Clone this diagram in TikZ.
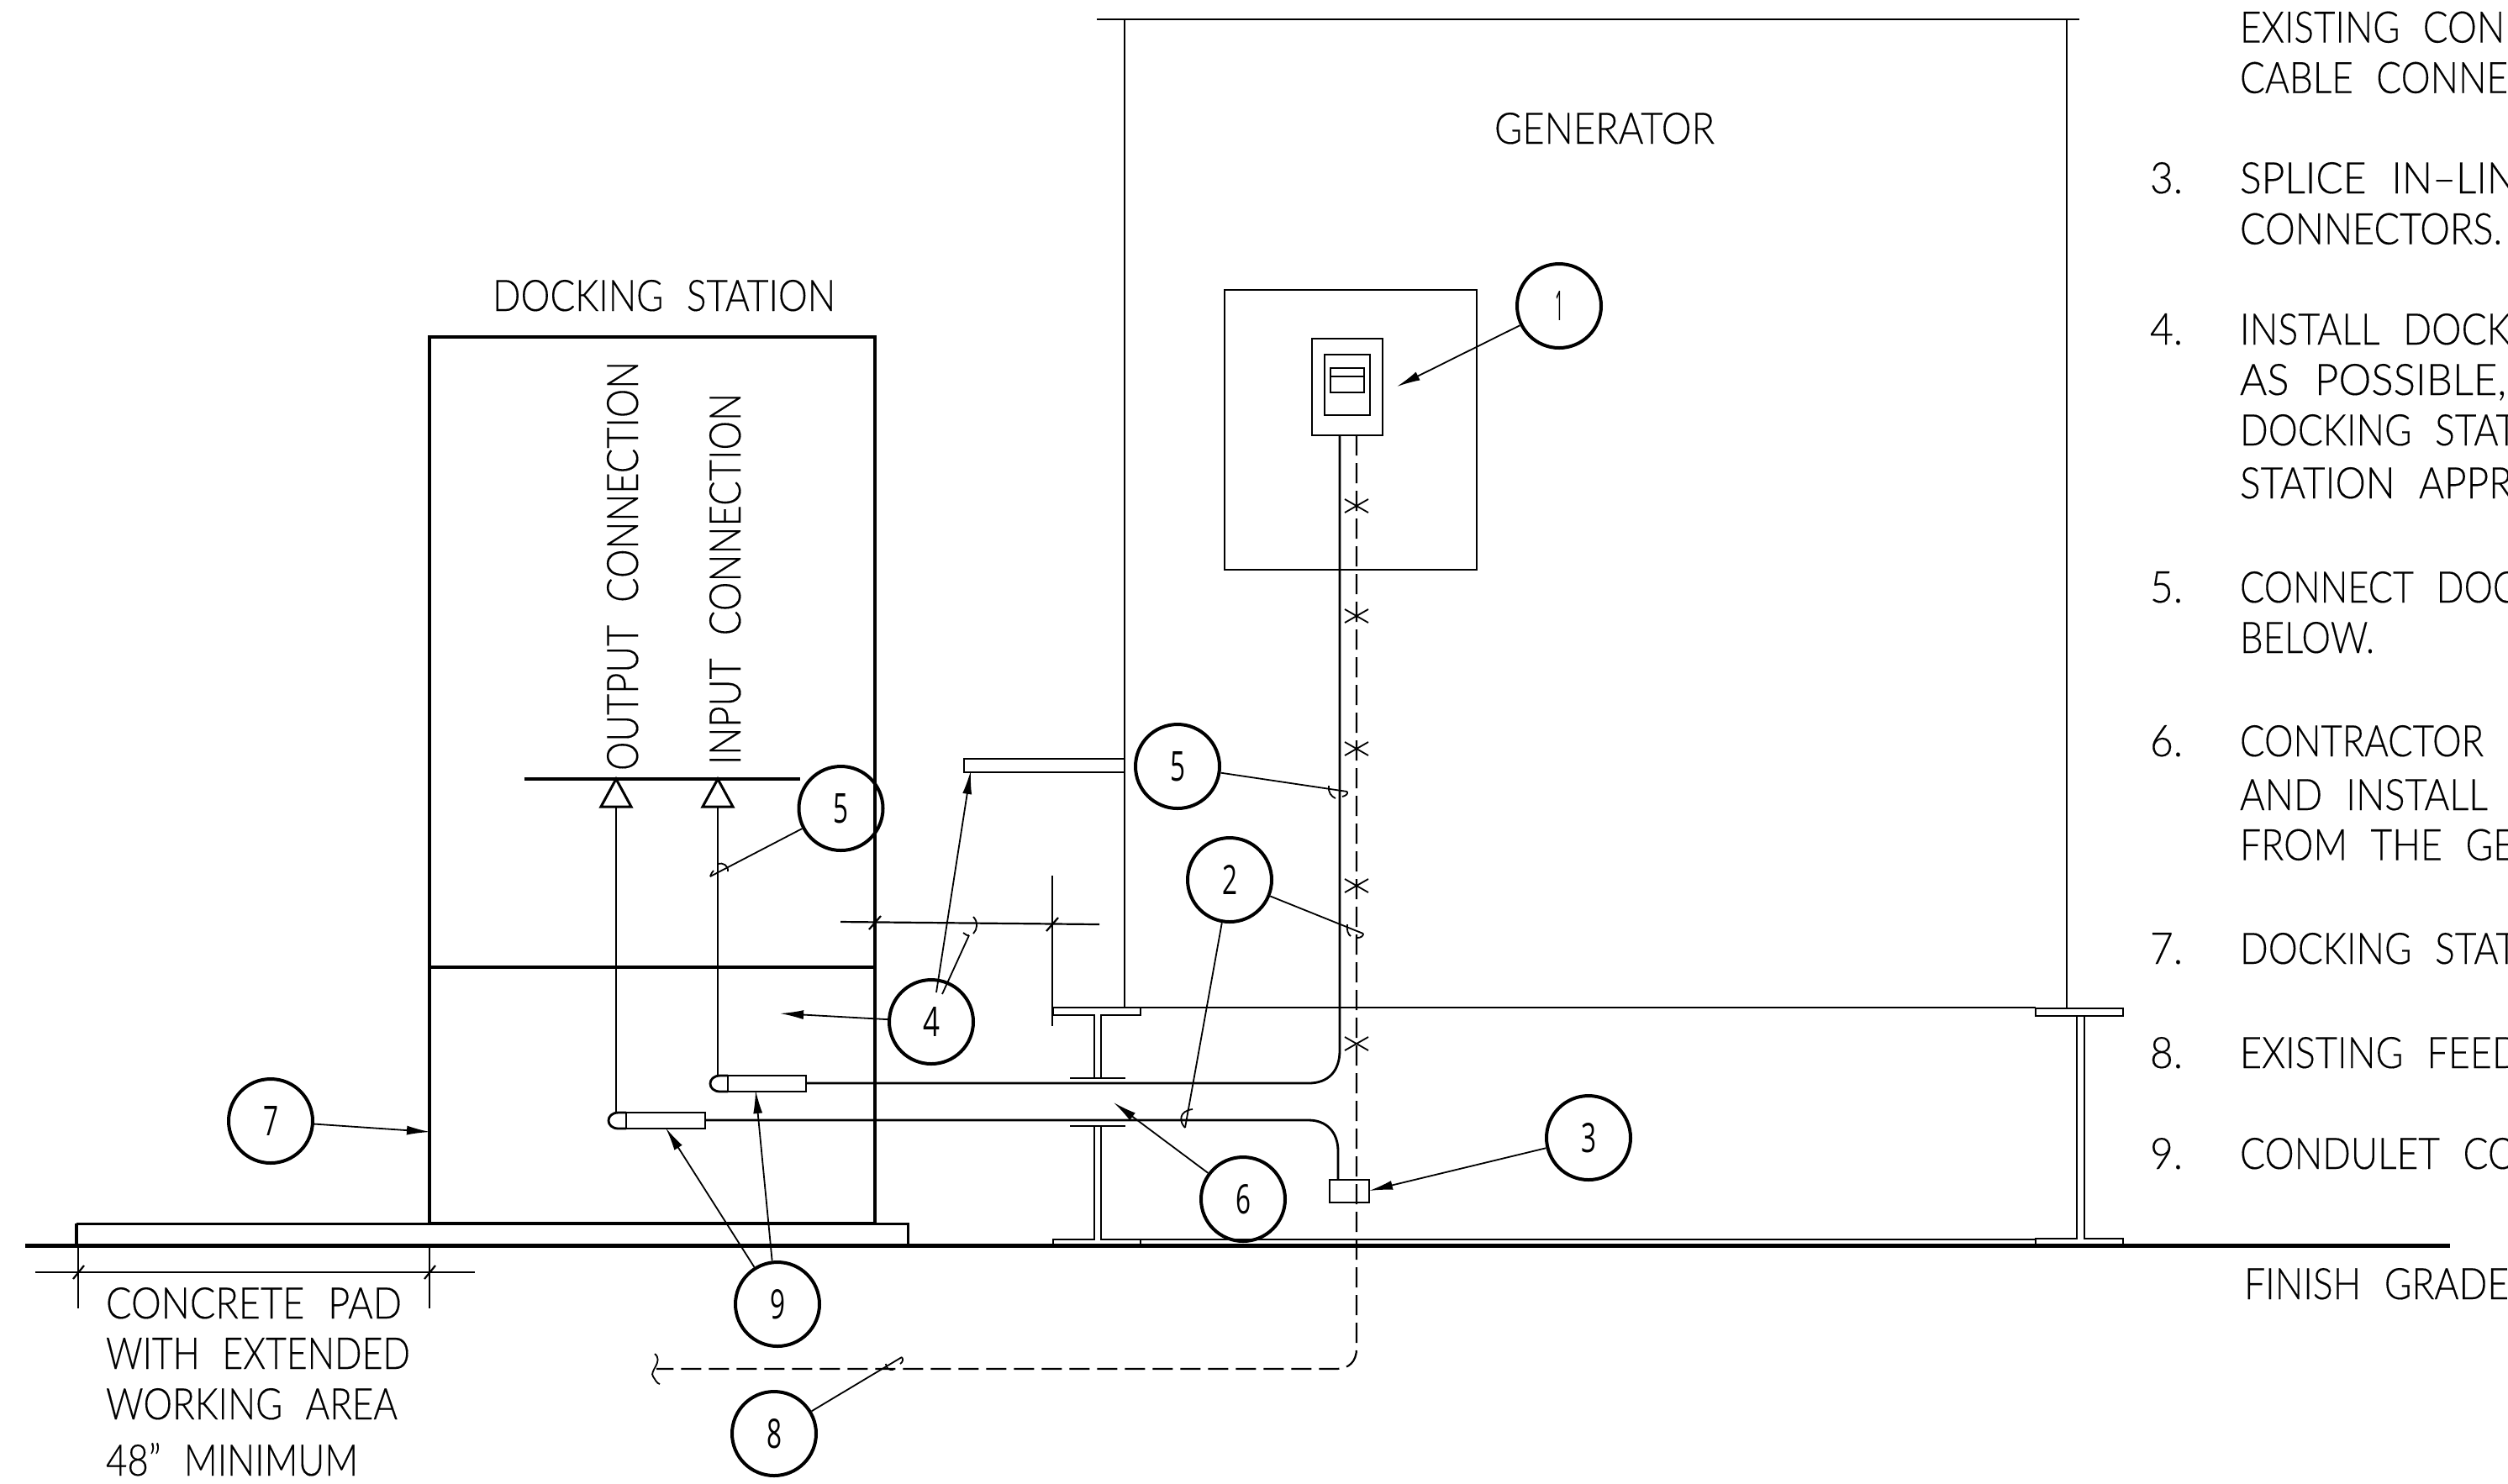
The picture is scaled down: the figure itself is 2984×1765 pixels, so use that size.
\documentclass[tikz,border=0pt]{standalone}
\usepackage{fontspec}
\usepackage{graphicx}
\usetikzlibrary{arrows.meta}
\setmainfont{Lato}[UprightFont=* Light,FakeBold=0.25]
\newfontfamily\digitfont{Open Sans}
\newlength{\pxu}
\setlength{\pxu}{0.01cm}
\newcommand{\fitw}[3][37]{\resizebox{#2\pxu}{#1\pxu}{\spaceskip=.62em\relax #3}}
\newcommand{\dgt}[2][18]{\resizebox{#1\pxu}{35\pxu}{\digitfont #2}}
\tikzset{
  hair/.style={line width=1.6\pxu},
  fine/.style={line width=2.2\pxu},
  conduit/.style={line width=2.8\pxu},
  medium/.style={line width=3\pxu},
  heavy/.style={line width=4.6\pxu},
  dashline/.style={line width=2.2\pxu, dash pattern=on 24\pxu off 9\pxu},
  lead/.style={line width=1.8\pxu},
  tip/.style={lead, -{Latex[length=2.8mm,width=1.1mm]}},
  txt/.style={inner sep=0pt, outer sep=0pt, anchor=base west},
  callout/.style={circle, draw, line width=4\pxu, minimum size=100\pxu, inner sep=0pt},
  box/.style={draw, fine, rectangle, inner sep=0pt},
}
\begin{document}
\begin{tikzpicture}[x=0.01cm,y=-0.01cm]
\useasboundingbox (0,0) rectangle (2984,1765);
\clip (0,0) rectangle (2984,1765);

% generator
\draw[fine] (1305,23) -- (2474,23);
\draw[fine] (1338,23) -- (1338,1199);
\draw[fine] (2459,23) -- (2459,1200);
\draw[fine] (1253,1199) -- (2422,1199);
% left beam
\draw[fine] (1253,1199) -- (1357,1199) -- (1357,1208) -- (1310,1208) -- (1310,1283);
\draw[fine] (1253,1199) -- (1253,1208) -- (1302,1208) -- (1302,1283);
\draw[fine] (1273,1283) -- (1339,1283);
\draw[fine] (1273,1340) -- (1339,1340);
\draw[fine] (1302,1340) -- (1302,1475) -- (1253,1475) -- (1253,1483);
\draw[fine] (1310,1340) -- (1310,1475) -- (2422,1475);
\draw[fine] (1357,1475) -- (1357,1483);
% right beam
\draw[fine] (2422,1200) rectangle (2526,1209);
\draw[fine] (2471,1209) -- (2471,1474) -- (2422,1474) -- (2422,1483);
\draw[fine] (2480,1209) -- (2480,1474) -- (2526,1474) -- (2526,1483);
% ground and pad
\draw[heavy] (30,1482.5) -- (2915,1482.5);
\draw[line width=4\pxu] (91,1483) -- (91,1456);
\draw[medium] (91,1456) -- (511,1456);
\draw[medium] (1041,1456) -- (1080,1456) -- (1080,1483);
% docking station
\draw[line width=4\pxu] (511,1456) -- (511,401) -- (1041,401) -- (1041,1456);
\draw[heavy] (511,1456) -- (1041,1456);
\draw[line width=4\pxu] (511,1151) -- (1041,1151);
\draw[line width=4\pxu] (624,927) -- (952,927);
% connection triangles
\draw[medium] (733,927) -- (751,960) -- (715,960) -- cycle;
\draw[medium] (854,927) -- (872,960) -- (836,960) -- cycle;
\draw[conduit] (733,960) -- (733,1324);
\draw[conduit] (854,960) -- (854,1280);
% fittings
\draw[conduit] (866,1280) rectangle (959,1299);
\draw[conduit] (866,1280) -- (857,1280) .. controls (841,1280) and (841,1299) .. (857,1299) -- (866,1299);
\draw[conduit] (745,1324) rectangle (839,1343);
\draw[conduit] (745,1324) -- (736,1324) .. controls (720,1324) and (720,1343) .. (736,1343) -- (745,1343);
% conduits
\draw[conduit] (959,1289) -- (1557,1289) .. controls (1580,1289) and (1594,1275) .. (1594,1250) -- (1594,518);
\draw[conduit] (839,1333) -- (1557,1333) .. controls (1578,1333) and (1592,1347) .. (1592,1370) -- (1592,1404);
\node[box, minimum width=47\pxu, minimum height=27\pxu, line width=2.6\pxu] (cond3) at (1605.5,1417.5) {};
% dashed feeder
\draw[dashline] (1614,518) -- (1614,1605) .. controls (1614,1620) and (1605,1629) .. (1590,1629) -- (781,1629);
\draw[lead] (779,1611) .. controls (790,1620) and (772,1632) .. (777,1638) .. controls (780,1642) and (781,1646) .. (785,1647);
% cross marks
\foreach \yy in {602,733,891,1054,1242} {\draw[lead] (1600,\yy-8) -- (1628,\yy+8) (1600,\yy+8) -- (1628,\yy-8);}
% panel
\draw[fine] (1457,345) rectangle (1757,678);
\draw[fine] (1561,403) rectangle (1645,518);
\draw[fine] (1576,422) rectangle (1630,494);
\draw[fine] (1583,438) rectangle (1623,467);
\draw[fine] (1583,448) -- (1623,448);
% bench
\draw[fine] (1338,903) -- (1147,903) -- (1147,919) -- (1338,919);
% dimension, right
\draw[fine] (1000,1097) -- (1308,1100);
\draw[fine] (1252,1042) -- (1252,1221);
\draw[fine] (1034,1106) -- (1048,1090);
\draw[fine] (1245,1108) -- (1259,1092);
% dimension, pad
\draw[fine] (42,1514) -- (565,1514);
\draw[hair] (93,1483) -- (93,1557);
\draw[hair] (511,1483) -- (511,1557);
\draw[fine] (87,1522) -- (100,1506);
\draw[fine] (505,1522) -- (518,1506);

% callouts
\node[callout] (c1) at (1855,364) {\dgt[10]{1}};
\node[callout] (c2) at (1463,1047) {\dgt{2}};
\node[callout] (c3) at (1890,1354) {\dgt{3}};
\node[callout] (c4) at (1108,1216) {\dgt[20]{4}};
\node[callout] (c5a) at (1401,912) {\dgt{5}};
\node[callout] (c5b) at (1000.5,962) {\dgt{5}};
\node[callout] (c6) at (1479,1427) {\dgt{6}};
\node[callout] (c7) at (322,1334) {\dgt{7}};
\node[callout] (c8) at (921,1706) {\dgt{8}};
\node[callout] (c9) at (925,1552) {\dgt{9}};

% leader ends
\coordinate (t1) at (1662,460);
\coordinate (t3) at (1629,1417);
\coordinate (t4a) at (1155,917);
\coordinate (s4a) at (1114,1181);
\coordinate (t4b) at (1153,1113);
\coordinate (s4b) at (1121,1183);
\coordinate (t4c) at (928,1206);
\coordinate (t5a) at (1603,942);
\coordinate (t5b) at (845,1043);
\coordinate (t2a) at (1622,1111);
\coordinate (t2b) at (1410,1342);
\coordinate (t6) at (1325,1312);
\coordinate (t7) at (512,1347);
\coordinate (t8) at (1073,1615);
\coordinate (t9a) at (792,1342);
\coordinate (t9b) at (899,1297);

\draw[tip] (c1) -- (t1);
\draw[tip] (c3) -- (t3);
\draw[tip] (s4a) -- (t4a);
\draw[lead] (s4b) -- (t4b);
\draw[tip] (c4) -- (t4c);
\draw[lead] (c5a) -- (t5a);
\draw[lead] (c5b) -- (t5b);
\draw[lead] (c2) -- (t2a);
\draw[lead] (c2) -- (t2b);
\draw[tip] (c6) -- (t6);
\draw[tip] (c7) -- (t7);
\draw[lead] (c8) -- (t8);
\draw[tip] (c9.122) -- (t9a);
\draw[tip] (c9.97) -- (t9b);

% cloud hooks at leader ends
\draw[lead] (t5a) .. controls (1604,945) and (1601,947) .. (1597,948);
\draw[lead] (1581,935) .. controls (1580,943) and (1584,948) .. (1589,950);
\draw[lead] (t2a) .. controls (1622,1114) and (1619,1116) .. (1615,1116);
\draw[lead] (1603,1100) .. controls (1602,1107) and (1604,1112) .. (1607,1114);
\draw[lead] (t5b) .. controls (846,1040) and (847,1038) .. (849,1036);
\draw[lead] (854,1028) .. controls (860,1026) and (867,1030) .. (866,1037);
\draw[lead] (t4b) .. controls (1152,1114) and (1148,1112) .. (1146,1110);
\draw[lead] (1158,1091) .. controls (1164,1097) and (1163,1106) .. (1158,1111);
\draw[lead] (t2b) .. controls (1403,1335) and (1402,1322) .. (1419,1320);
\draw[lead] (t8) .. controls (1075,1618) and (1074,1621) .. (1071,1623);
\draw[lead] (1054,1623) .. controls (1054,1628) and (1058,1631) .. (1063,1630);

% labels
\node[txt] (lgen) at (1778,171) {\fitw{262}{GENERATOR}};
\node[txt] (lds) at (586,370) {\fitw{408}{DOCKING STATION}};
\node[txt, rotate=90] (lout) at (759,917) {\fitw{487}{OUTPUT CONNECTION}};
\node[txt, rotate=90] (lin) at (881,910) {\fitw{442}{INPUT CONNECTION}};
\node[txt] (lp1) at (126,1569) {\fitw{352}{CONCRETE PAD}};
\node[txt] (lp2) at (126,1629) {\fitw{362}{WITH EXTENDED}};
\node[txt] (lp3) at (126,1689) {\fitw{347}{WORKING AREA}};
\node[txt] (lp4) at (126,1756) {\fitw{300}{48\smash{”} MINIMUM}};
\node[txt] (lfg) at (2670,1546) {\fitw{315}{FINISH GRADE}};

% notes
\node[txt] (a1) at (2665,50.6) {\fitw{315}{EXISTING CON}};
\node[txt] (a2) at (2665,110.7) {\fitw{319}{CABLE CONNE}};
\node[txt] (n3) at (2558,230) {\fitw{39}{3.}};
\node[txt] (a3) at (2665,230) {\fitw{330}{SPLICE IN–LIN}};
\node[txt] (a4) at (2665,290.6) {\fitw{312}{CONNECTORS.}};
\node[txt] (n4) at (2558,410) {\fitw{39}{4.}};
\node[txt] (a5) at (2665,410) {\fitw{322}{INSTALL DOCK}};
\node[txt] (a6) at (2665,470) {\fitw{317}{AS POSSIBLE,}};
\node[txt] (a7) at (2665,530) {\fitw{330}{DOCKING STAT}};
\node[txt] (a8) at (2665,593) {\fitw{324}{STATION APPR}};
\node[txt] (n5) at (2558,717) {\fitw{39}{5.}};
\node[txt] (a9) at (2665,717) {\fitw{330}{CONNECT DOC}};
\node[txt] (a10) at (2665,777) {\fitw{160}{BELOW.}};
\node[txt] (n6) at (2558,900) {\fitw{39}{6.}};
\node[txt] (a11) at (2665,900) {\fitw{290}{CONTRACTOR}};
\node[txt] (a12) at (2665,964) {\fitw{295}{AND INSTALL}};
\node[txt] (a13) at (2665,1023.6) {\fitw{327}{FROM THE GE}};
\node[txt] (n7) at (2558,1147) {\fitw{39}{7.}};
\node[txt] (a14) at (2665,1147) {\fitw{330}{DOCKING STAT}};
\node[txt] (n8) at (2558,1271) {\fitw{39}{8.}};
\node[txt] (a15) at (2665,1271) {\fitw{334}{EXISTING FEED}};
\node[txt] (n9) at (2558,1391) {\fitw{39}{9.}};
\node[txt] (a16) at (2665,1391) {\fitw{330}{CONDULET CO}};
\end{tikzpicture}
\end{document}
